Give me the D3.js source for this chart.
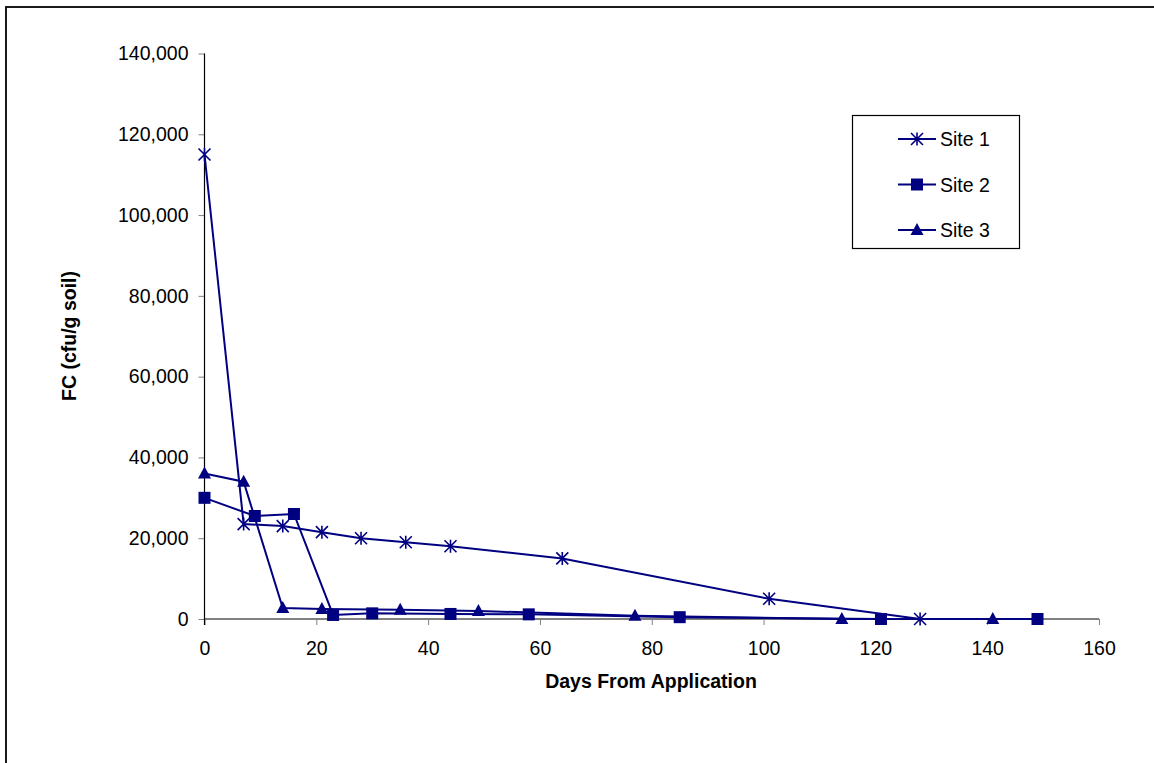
<!DOCTYPE html>
<html>
<head>
<meta charset="utf-8">
<script src="https://cdn.jsdelivr.net/npm/d3@7"></script>
<style>
  body { margin: 0; background: #fff; }
  svg { display: block; }
  text { font-family: "Liberation Sans", Arial, sans-serif; }
</style>
</head>
<body>
<svg id="chart" width="1154" height="763"></svg>
<script>
// ---- data ----
const site1Days = [0, 7, 14, 21, 28, 36, 44, 64, 101, 128];
const site1FC   = [115000, 23500, 23000, 21500, 20000, 19000, 18000, 15000, 5000, 0];
const site2Days = [0, 9, 16, 23, 30, 44, 58, 85, 121, 149];
const site2FC   = [30000, 25500, 26000, 1000, 1400, 1250, 1150, 450, 0, 0];
const site3Days = [0, 7, 14, 21, 35, 49, 77, 114, 141];
const site3FC   = [36000, 34000, 2700, 2500, 2300, 2000, 800, 0, 0];
const seriesNames = ["Site 1", "Site 2", "Site 3"];
const markerTypes = ["star", "square", "triangle"];
const xTicks = [0, 20, 40, 60, 80, 100, 120, 140, 160];
const yTicks = [0, 20000, 40000, 60000, 80000, 100000, 120000, 140000];
const xTitle = "Days From Application";
const yTitle = "FC (cfu/g soil)";

const series = [
  { name: seriesNames[0], marker: markerTypes[0], pts: site1Days.map((d, i) => [d, site1FC[i]]) },
  { name: seriesNames[1], marker: markerTypes[1], pts: site2Days.map((d, i) => [d, site2FC[i]]) },
  { name: seriesNames[2], marker: markerTypes[2], pts: site3Days.map((d, i) => [d, site3FC[i]]) }
];

const navy = "#000080";
const fs = 19.5;
const svg = d3.select("#chart");

// outer frame
svg.append("rect").attr("x", 6).attr("y", 7).attr("width", 1300).attr("height", 900)
  .attr("fill", "none").attr("stroke", "#1a1a1a").attr("stroke-width", 2);

const x = d3.scaleLinear().domain([0, 160]).range([204.5, 1099]);
const y = d3.scaleLinear().domain([0, 140000]).range([619, 53.5]);
const fmt = d3.format(",");

// y axis
const yAxis = svg.append("g").attr("transform", `translate(${x(0)},0)`)
  .call(d3.axisLeft(y).tickValues(yTicks).tickFormat(fmt).tickSize(6).tickPadding(10));
yAxis.select(".domain").remove();
yAxis.selectAll(".tick line").attr("stroke", "#808080");
yAxis.selectAll(".tick text").attr("font-size", fs).attr("fill", "#000")
  .attr("font-family", "Liberation Sans, Arial, sans-serif");

// x axis
const xAxis = svg.append("g").attr("transform", `translate(0,${y(0)})`)
  .call(d3.axisBottom(x).tickValues(xTicks).tickSize(6).tickPadding(16));
xAxis.select(".domain").remove();
xAxis.selectAll(".tick line").attr("stroke", "#808080");
xAxis.selectAll(".tick text").attr("font-size", fs).attr("fill", "#000")
  .attr("font-family", "Liberation Sans, Arial, sans-serif");

// axis lines
svg.append("line").attr("x1", x(0)).attr("x2", x(160)).attr("y1", y(0)).attr("y2", y(0))
  .attr("stroke", "#808080").attr("stroke-width", 2);
svg.append("line").attr("x1", x(0)).attr("x2", x(0)).attr("y1", y(140000)).attr("y2", y(0) + 6)
  .attr("stroke", "#000").attr("stroke-width", 1.2);

// axis titles
svg.append("text").attr("x", 651).attr("y", 688).attr("text-anchor", "middle")
  .attr("font-size", fs).attr("font-weight", "bold").text(xTitle);
svg.append("text").attr("transform", "translate(76,336) rotate(-90)").attr("text-anchor", "middle")
  .attr("font-size", fs).attr("font-weight", "bold").text(yTitle);

function drawMarker(g, type, cx, cy) {
  if (type === "star") {
    const r = 6;
    g.append("path")
      .attr("d", `M${cx - r},${cy - r}L${cx + r},${cy + r}M${cx - r},${cy + r}L${cx + r},${cy - r}M${cx},${cy - r - 0.5}L${cx},${cy + r + 0.5}`)
      .attr("stroke", navy).attr("stroke-width", 1.6).attr("fill", "none");
  } else if (type === "square") {
    g.append("rect").attr("x", cx - 6).attr("y", cy - 6).attr("width", 12).attr("height", 12)
      .attr("fill", navy);
  } else {
    g.append("path").attr("d", `M${cx},${cy - 7}L${cx + 6.5},${cy + 5}L${cx - 6.5},${cy + 5}Z`)
      .attr("fill", navy);
  }
}

const line = d3.line().x(d => x(d[0])).y(d => y(d[1]));
series.forEach(s => {
  const g = svg.append("g");
  g.append("path").datum(s.pts).attr("d", line)
    .attr("fill", "none").attr("stroke", navy).attr("stroke-width", 2);
  s.pts.forEach(p => drawMarker(g, s.marker, x(p[0]), y(p[1])));
});

// legend
const lg = svg.append("g");
lg.append("rect").attr("x", 852.5).attr("y", 115.5).attr("width", 167).attr("height", 133)
  .attr("fill", "#fff").attr("stroke", "#000").attr("stroke-width", 1.2);
series.forEach((s, i) => {
  const ly = 139 + i * 45.5;
  lg.append("line").attr("x1", 898).attr("x2", 936).attr("y1", ly).attr("y2", ly)
    .attr("stroke", navy).attr("stroke-width", 2);
  drawMarker(lg, s.marker, 917, ly);
  lg.append("text").attr("x", 940).attr("y", ly + 7).attr("font-size", fs).text(s.name);
});
</script>
</body>
</html>
